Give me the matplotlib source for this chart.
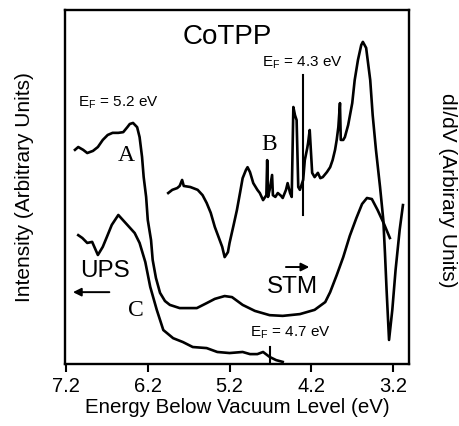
import matplotlib
matplotlib.use("Agg")
import matplotlib.pyplot as plt

plt.rcParams['font.family'] = ['Liberation Sans', 'DejaVu Sans']
plt.rcParams['mathtext.default'] = 'regular'

# UPS spectrum, upper trace (A)
a_energy = [7.09, 7.05, 6.99, 6.94, 6.87, 6.81, 6.75, 6.69, 6.63, 6.56,
            6.50, 6.45, 6.42, 6.38, 6.33, 6.30, 6.27, 6.25, 6.22, 6.20,
            6.16, 6.14, 6.10, 6.05, 5.99, 5.93, 5.81, 5.60, 5.48, 5.38,
            5.26, 5.17, 5.04, 4.89, 4.71, 4.55, 4.34, 4.16, 4.03, 3.97,
            3.89, 3.81, 3.73, 3.65, 3.58, 3.52, 3.46, 3.39, 3.31, 3.24]
a_int = [60.5, 61.3, 60.5, 59.6, 60.2, 61.3, 63.3, 64.7, 65.3, 65.3,
         65.5, 66.9, 67.8, 68.1, 66.9, 64.1, 58.5, 52.8, 47.2, 40.7,
         35.0, 29.4, 24.3, 20.1, 17.8, 16.7, 15.8, 15.8, 17.2, 18.4,
         19.2, 18.9, 16.7, 15.0, 13.8, 13.6, 14.1, 15.3, 17.5, 20.3,
         25.1, 30.2, 36.2, 41.2, 45.2, 46.9, 46.6, 43.5, 39.5, 35.6]

# STM dI/dV trace (B)
b_energy = [5.95, 5.90, 5.84, 5.81, 5.78, 5.76, 5.68, 5.59, 5.53, 5.48,
            5.43, 5.38, 5.33, 5.29, 5.26, 5.22, 5.20, 5.15, 5.11, 5.07,
            5.04, 5.00, 4.98, 4.95, 4.91, 4.86, 4.83, 4.79, 4.75, 4.74,
            4.73, 4.71, 4.68, 4.67, 4.64, 4.61, 4.57, 4.55, 4.51, 4.49,
            4.46, 4.44, 4.42, 4.40, 4.38, 4.36, 4.34, 4.30, 4.28, 4.25,
            4.24, 4.22, 4.19, 4.16, 4.12, 4.09, 4.06, 4.01, 3.97, 3.94,
            3.91, 3.89, 3.87, 3.85, 3.84, 3.81, 3.79, 3.75, 3.70, 3.67,
            3.63, 3.59, 3.57, 3.53, 3.48, 3.45, 3.41, 3.36, 3.32, 3.30,
            3.28, 3.25, 3.21, 3.17, 3.12, 3.08]
b_int = [48.3, 49.2, 49.7, 50.3, 52.0, 50.3, 50.0, 49.2, 47.7, 45.5,
         42.7, 38.7, 35.6, 33.1, 30.2, 31.6, 34.2, 39.3, 43.5, 48.6,
         52.5, 54.8, 55.6, 54.2, 51.1, 49.2, 48.3, 46.3, 47.7, 57.6,
         47.2, 49.2, 53.4, 47.7, 47.2, 48.3, 47.5, 46.9, 49.2, 51.1,
         48.3, 47.2, 72.6, 70.3, 68.9, 50.0, 49.2, 52.0, 57.6, 61.0,
         62.4, 66.1, 54.0, 52.8, 54.0, 52.5, 52.8, 54.2, 55.6, 57.6,
         60.5, 63.3, 66.9, 73.7, 63.3, 63.3, 64.1, 67.5, 73.7, 80.2,
         85.9, 90.1, 91.0, 89.3, 80.2, 70.3, 60.5, 50.0, 40.7, 31.4,
         20.9, 6.8, 15.3, 26.6, 37.9, 44.9]

# UPS spectrum, lower trace (C)
c_energy = [7.05, 7.00, 6.94, 6.88, 6.81, 6.75, 6.70, 6.64, 6.56, 6.45,
            6.36, 6.30, 6.23, 6.17, 6.09, 6.01, 5.89, 5.77, 5.65, 5.48,
            5.35, 5.20, 5.04, 4.95, 4.86, 4.79, 4.71, 4.63, 4.55]
c_int = [36.4, 35.6, 34.2, 34.5, 30.8, 33.1, 35.9, 39.3, 42.1, 39.3,
         37.0, 34.2, 28.8, 21.8, 15.3, 9.6, 7.3, 6.2, 4.8, 4.5,
         3.4, 3.1, 3.4, 2.8, 2.8, 3.4, 2.0, 1.1, 0.6]

# Fermi level markers
ef_energy = [4.3, 4.7]
ef_low = [42.1, 0.3]
ef_high = [81.6, 4.8]

xticks = [7.2, 6.2, 5.2, 4.2, 3.2]

fig = plt.figure(figsize=(4.6, 4.26), dpi=100)
ax = fig.add_axes([0.1413, 0.1455, 0.748, 0.831])

for e, i in [(a_energy, a_int), (b_energy, b_int), (c_energy, c_int)]:
    ax.plot(e, i, color='black', lw=1.9, solid_joinstyle='round')
for e, lo, hi in zip(ef_energy, ef_low, ef_high):
    ax.plot([e, e], [lo, hi], color='black', lw=1.5)

ax.set_xlim(7.212, 3.005)
ax.set_ylim(0, 100)
ax.set_xticks(xticks)
ax.set_xticklabels([f'{t:.1f}' for t in xticks], fontsize=14.5)
ax.set_yticks([])
ax.tick_params(axis='x', direction='out', length=6, width=1.5, pad=3)
for s in ax.spines.values():
    s.set_linewidth(1.7)

ax.set_xlabel('Energy Below Vacuum Level (eV)', fontsize=14.8, labelpad=2)
ax.set_ylabel('Intensity (Arbitrary Units)', fontsize=15, labelpad=22)
ax.text(1.113, 0.49, 'dI/dV (Arbirary Units)', transform=ax.transAxes,
        rotation=270, fontsize=15, ha='center', va='center')

ax.text(0.471, 0.924, 'CoTPP', transform=ax.transAxes, fontsize=20,
        ha='center', va='center')
ax.text(0.038, 0.737, 'E$_F$ = 5.2 eV', transform=ax.transAxes, fontsize=11,
        ha='left', va='center')
ax.text(0.573, 0.850, 'E$_F$ = 4.3 eV', transform=ax.transAxes, fontsize=11,
        ha='left', va='center')
ax.text(0.538, 0.088, 'E$_F$ = 4.7 eV', transform=ax.transAxes, fontsize=11,
        ha='left', va='center')

serif = ['Liberation Serif', 'DejaVu Serif']
ax.text(0.177, 0.588, 'A', transform=ax.transAxes, fontsize=17, family=serif,
        ha='center', va='center')
ax.text(0.593, 0.621, 'B', transform=ax.transAxes, fontsize=17, family=serif,
        ha='center', va='center')
ax.text(0.206, 0.150, 'C', transform=ax.transAxes, fontsize=17, family=serif,
        ha='center', va='center')

ax.text(0.116, 0.263, 'UPS', transform=ax.transAxes, fontsize=17.5,
        ha='center', va='center')
ax.annotate('', xy=(0.015, 0.203), xytext=(0.137, 0.203), xycoords='axes fraction',
            arrowprops=dict(arrowstyle='-|>', color='black', lw=1.4,
                            mutation_scale=12))
ax.text(0.660, 0.218, 'STM', transform=ax.transAxes, fontsize=17.5,
        ha='center', va='center')
ax.annotate('', xy=(0.718, 0.274), xytext=(0.634, 0.274), xycoords='axes fraction',
            arrowprops=dict(arrowstyle='-|>', color='black', lw=1.4,
                            mutation_scale=12))

fig.savefig('out.png', dpi=100)
